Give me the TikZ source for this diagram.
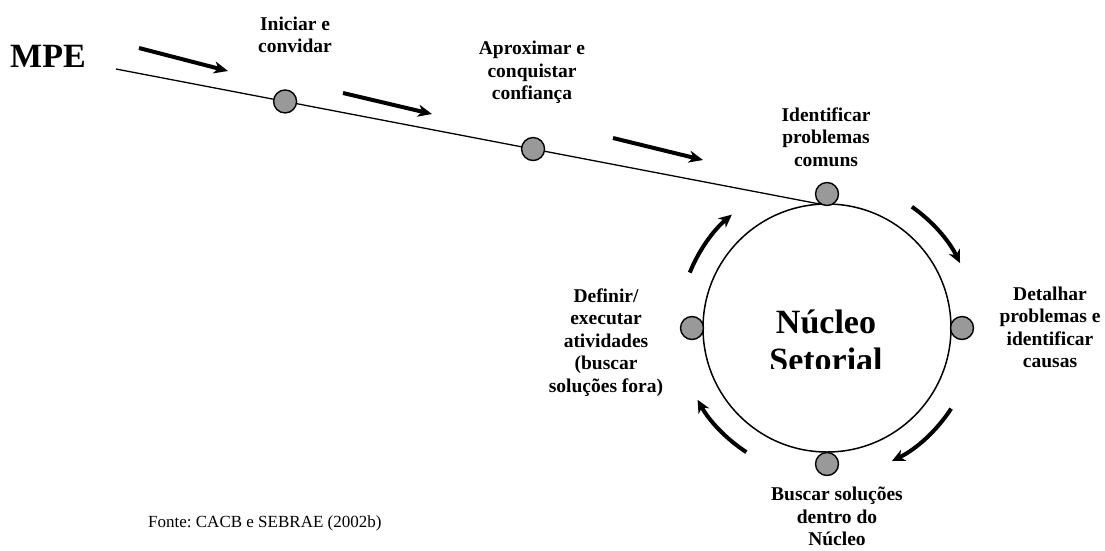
\documentclass[tikz,border=0pt]{standalone}
\usepackage{fontspec}
\setmainfont{Liberation Serif}
\usetikzlibrary{arrows.meta}
\frenchspacing
\begin{document}
\begin{tikzpicture}[x=1pt,y=-1pt,
  lbl/.style={font=\bfseries\fontsize{19.5}{22.5}\selectfont, align=center, inner sep=0pt, anchor=north},
  dot/.style={circle, draw=black, line width=1.4pt, fill=black!40, minimum size=23pt, inner sep=0pt, outer sep=0pt},
  trackline/.style={line width=1.3pt},
  flow/.style={line width=4pt, -{Stealth[length=14pt,width=12pt,inset=4pt]}},
  turnarrow/.style={line width=4pt, -{Stealth[length=13pt,width=12pt,inset=4pt]}}]
\useasboundingbox (0,0) rectangle (1105,550);

% the sector circle
\node[circle, draw, line width=1.5pt, minimum size=248pt, inner sep=0pt, outer sep=0pt] (core) at (827,328) {};
\begin{scope}
  \clip (0,0) rectangle (1105,368.5);
  \node[font=\bfseries\fontsize{34}{38}\selectfont, align=center, inner sep=0pt, anchor=north] (core-name) at (826,310) {Núcleo\\Setorial};
\end{scope}

% the approach line with its two stops
\coordinate (mpe-start) at (116,69);
\draw[trackline] (mpe-start) -- (core.93)
  node[dot, pos=0.24] (stop1) {}
  node[dot, pos=0.592] (stop2) {};

% stops around the circle
\node[dot] (n-top) at ([shift={(0,-134)}]core.center) {};
\node[dot] (n-left) at ([shift={(-135,0)}]core.center) {};
\node[dot] (n-right) at ([shift={(135,0)}]core.center) {};
\node[dot] (n-bottom) at ([shift={(0,136)}]core.center) {};

% direction arrows along the line
\coordinate (a1s) at (139,48);  \coordinate (a1e) at (228,71);
\coordinate (a2s) at (343,93);  \coordinate (a2e) at (432,114);
\coordinate (a3s) at (613,138); \coordinate (a3e) at (703,160);
\draw[flow] (a1s) -- (a1e);
\draw[flow] (a2s) -- (a2e);
\draw[flow] (a3s) -- (a3e);

% cycle arrows around the circle
\draw[turnarrow] ([shift={(-158:148)}]core.center) arc[start angle=-158, end angle=-130, radius=148];
\draw[turnarrow] ([shift={(-55:148)}]core.center) arc[start angle=-55, end angle=-26, radius=148];
\draw[turnarrow] ([shift={(33:148)}]core.center) arc[start angle=33, end angle=64, radius=148];
\draw[turnarrow] ([shift={(123:148)}]core.center) arc[start angle=123, end angle=151, radius=148];

% texts
\node[font=\bfseries\fontsize{34}{40}\selectfont, anchor=base west, inner sep=0pt] (mpe) at (10,67) {MPE};
\node[lbl] (l-start) at (295,16.5) {Iniciar e\\convidar};
\node[lbl] (l-approach) at (532,41) {Aproximar e\\conquistar\\confiança};
\node[lbl] (l-identify) at (826,107.5) {Identificar\\problemas\\comuns};
\node[lbl] (l-detail) at (1050,286.5) {Detalhar\\problemas e\\identificar\\causas};
\node[lbl] (l-define) at (606,288.5) {Definir/\\executar\\atividades\\(buscar\\soluções fora)};
\node[lbl] (l-inside) at (837,487) {Buscar soluções\\dentro do\\Núcleo};
\node[font=\fontsize{17}{20}\selectfont, anchor=base west, inner sep=0pt] (source) at (148,527) {Fonte: CACB e SEBRAE (2002b)};
\end{tikzpicture}
\end{document}
